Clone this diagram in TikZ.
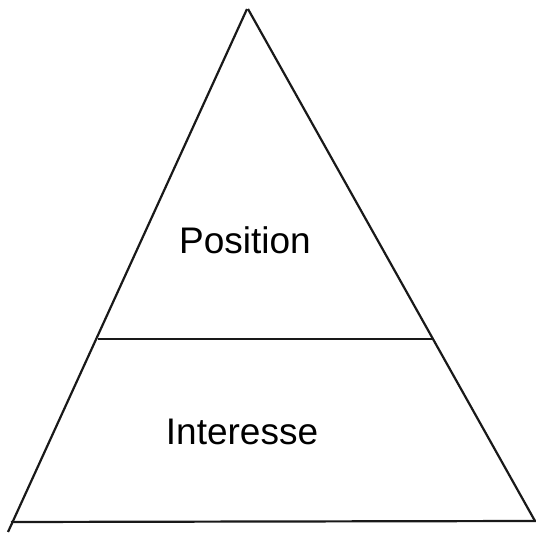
\documentclass[tikz,border=0pt]{standalone}
\usepackage{fontspec}
\setmainfont{Liberation Sans}
\begin{document}
\begin{tikzpicture}[x=1pt,y=-1pt,
  edge/.style={line width=2.2pt,black!90},
  lbl/.style={font=\fontsize{37}{41}\selectfont,inner sep=0pt}]
\useasboundingbox (0,0) rectangle (536,534);
\coordinate (apexL) at (247,9);
\coordinate (apexR) at (248,9);
\coordinate (bl) at (8,532);
\coordinate (br) at (535,521);
\coordinate (bot0) at (11,522);
\coordinate (bot1) at (536,521);
\coordinate (m0) at (98,339);
\coordinate (m1) at (432,339);
\draw[edge] (apexL) -- (bl);
\draw[edge] (apexR) -- (br);
\draw[edge] (bot0) -- (bot1);
\draw[edge] (m0) -- (m1);
\node[lbl] (pos) at (245,240) {Position};
\node[lbl] (int) at (242,432) {Interesse};
\end{tikzpicture}
\end{document}
